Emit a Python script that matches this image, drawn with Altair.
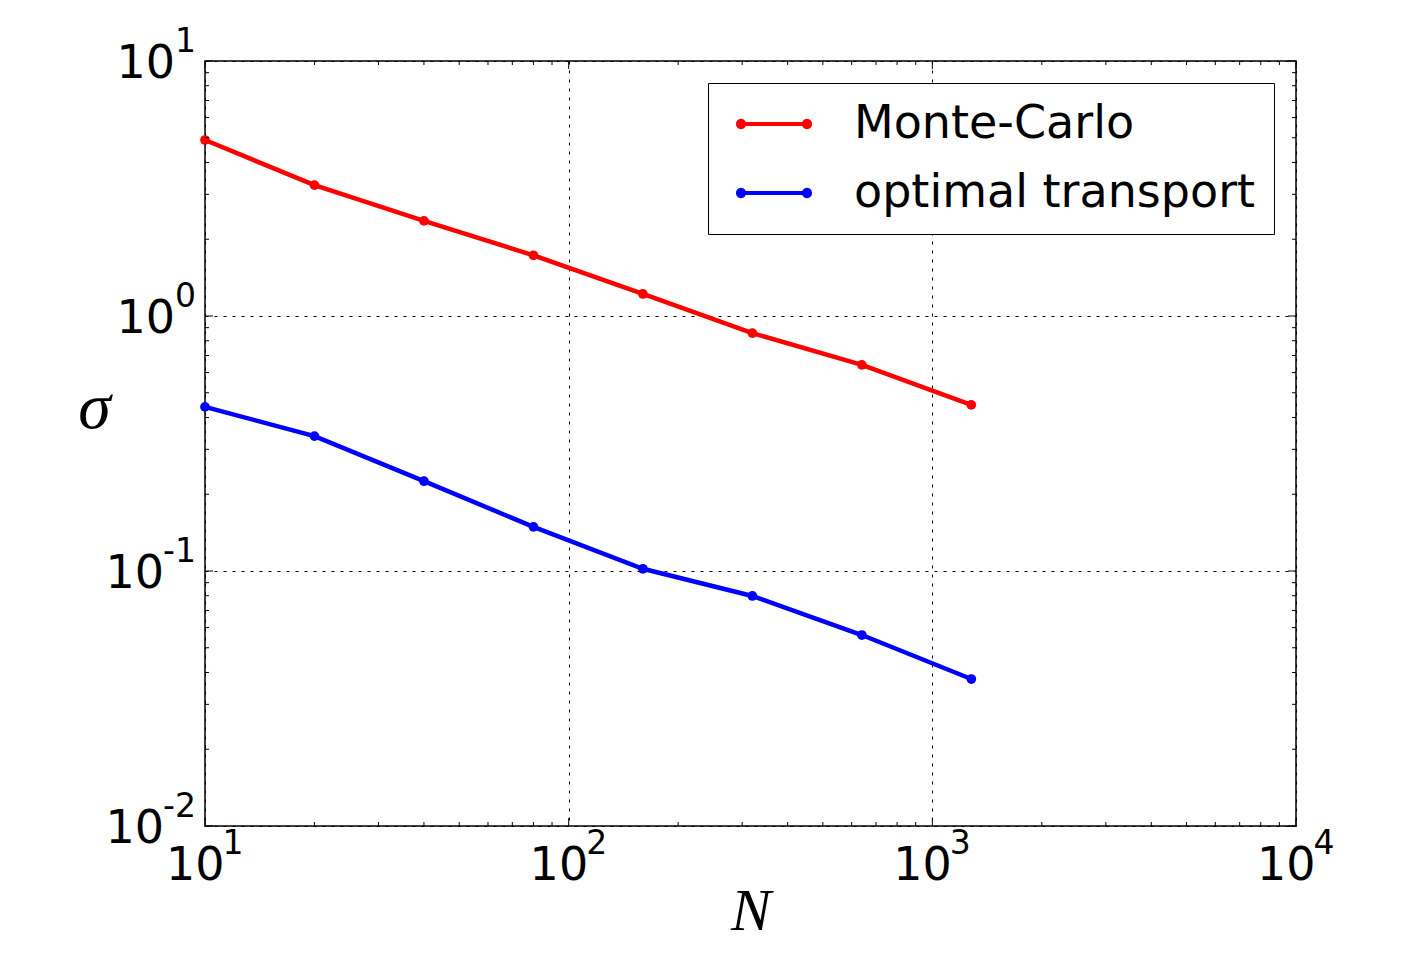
import altair as alt
import pandas as pd

# ---------------- data ----------------
n_values = [10, 20, 40, 80, 160, 320, 640, 1280]
monte_carlo = [4.9, 3.26, 2.36, 1.73, 1.22, 0.857, 0.643, 0.448]
optimal_transport = [0.44, 0.338, 0.225, 0.149, 0.102, 0.0798, 0.0561, 0.0377]
series_names = ["Monte-Carlo", "optimal transport"]
series_colors = ["#ff0000", "#0000ff"]

x_major = [10, 100, 1000, 10000]
x_exponents = ["1", "2", "3", "4"]
y_major = [0.01, 0.1, 1, 10]
y_exponents = ["-2", "-1", "0", "1"]
minor_steps = [2, 3, 4, 5, 6, 7, 8, 9]

# ---------------- layout / style ----------------
W, H = 1091, 765
FONT = "DejaVu Sans"
SERIF = "Liberation Serif"
LABEL_SIZE = 46
EXP_SIZE = 33

x_minor = [m * d for d in x_major[:-1] for m in minor_steps]
y_minor = [m * d for d in y_major[:-1] for m in minor_steps]

xs = alt.Scale(type="log", domain=[x_major[0], x_major[-1]], nice=False)
ys = alt.Scale(type="log", domain=[y_major[0], y_major[-1]], nice=False)

x_axis = alt.Axis(values=x_major, grid=True, gridColor="black", gridDash=[3, 6],
                  gridWidth=1, labels=False, ticks=False, domain=False,
                  title="N", titleFont=SERIF, titleFontStyle="italic",
                  titleFontWeight="normal", titleFontSize=60, titleColor="black",
                  titleY=103, titleBaseline="alphabetic")
y_axis = alt.Axis(values=y_major, grid=True, gridColor="black", gridDash=[3, 6],
                  gridWidth=1, labels=False, ticks=False, domain=False,
                  title="σ", titleFont=SERIF, titleFontStyle="italic",
                  titleFontWeight="normal", titleFontSize=66, titleColor="black",
                  titleAngle=0, titleX=-111, titleY=366, titleAlign="center",
                  titleBaseline="alphabetic")


def X(field):
    return alt.X(f"{field}:Q", scale=xs, axis=x_axis)


def Y(field):
    return alt.Y(f"{field}:Q", scale=ys, axis=y_axis)


rows = []
for name, vals in zip(series_names, [monte_carlo, optimal_transport]):
    for n, v in zip(n_values, vals):
        rows.append({"N": n, "sigma": v, "series": name})
df = pd.DataFrame(rows)

# legend glyph: a short line with a dot at each end (filled path)
legend_symbol = ("M-0.667,-0.167H4.833V0.167H-0.667Z"
                 "M-1.083,0A0.4167,0.4167,0,1,1,-0.25,0A0.4167,0.4167,0,1,1,-1.083,0Z"
                 "M4.417,0A0.4167,0.4167,0,1,1,5.25,0A0.4167,0.4167,0,1,1,4.417,0Z")

color = alt.Color(
    "series:N",
    scale=alt.Scale(domain=series_names, range=series_colors),
    sort=series_names,
    legend=alt.Legend(title=None, orient="top-right", offset=22, padding=18,
                      strokeColor="black", fillColor="white", cornerRadius=0,
                      labelFont=FONT, labelFontSize=LABEL_SIZE, labelColor="black",
                      labelLimit=1000,
                      symbolType=legend_symbol, symbolSize=576,
                      symbolStrokeWidth=0, symbolOpacity=1,
                      labelOffset=82, rowPadding=23),
)

points = alt.Chart(df).mark_point(filled=True, size=95, opacity=1).encode(
    x=X("N"), y=Y("sigma"), color=color)
lines = alt.Chart(df).mark_line(strokeWidth=4.5).encode(
    x=X("N"), y=Y("sigma"), color=color)

layers = [points, lines]


def x_ticks(values, length):
    d = alt.Chart(pd.DataFrame({"v": values})).mark_rule(color="black", strokeWidth=1)
    return [d.encode(x=X("v"), y=alt.value(H), y2=alt.value(H - length)),
            d.encode(x=X("v"), y=alt.value(0), y2=alt.value(length))]


def y_ticks(values, length):
    d = alt.Chart(pd.DataFrame({"v": values})).mark_rule(color="black", strokeWidth=1)
    return [d.encode(y=Y("v"), x=alt.value(0), x2=alt.value(length)),
            d.encode(y=Y("v"), x=alt.value(W), x2=alt.value(W - length))]


layers += x_ticks(x_major, 8) + x_ticks(x_minor, 4)
layers += y_ticks(y_major, 8) + y_ticks(y_minor, 4)

# tick labels: "10" with a raised exponent
xl = pd.DataFrame({"v": x_major, "e": x_exponents})
layers.append(alt.Chart(xl).mark_text(
    text="10", font=FONT, fontSize=LABEL_SIZE, align="right", baseline="alphabetic",
    dx=19.5, color="black").encode(x=X("v"), y=alt.value(H + 54)))
layers.append(alt.Chart(xl).mark_text(
    font=FONT, fontSize=EXP_SIZE, align="left", baseline="alphabetic",
    dx=17.5, color="black").encode(x=X("v"), y=alt.value(H + 28), text="e:N"))

yl = pd.DataFrame({"v": y_major, "e": y_exponents})
layers.append(alt.Chart(yl).mark_text(
    font=FONT, fontSize=EXP_SIZE, align="right", baseline="alphabetic",
    dy=-9, color="black").encode(x=alt.value(-9), y=Y("v"), text="e:N"))
layers.append(alt.Chart(yl).transform_filter("datum.v >= 1").mark_text(
    text="10", font=FONT, fontSize=LABEL_SIZE, align="right", baseline="alphabetic",
    dy=17, color="black").encode(x=alt.value(-30), y=Y("v")))
layers.append(alt.Chart(yl).transform_filter("datum.v < 1").mark_text(
    text="10", font=FONT, fontSize=LABEL_SIZE, align="right", baseline="alphabetic",
    dy=17, color="black").encode(x=alt.value(-41), y=Y("v")))

chart = alt.layer(*layers).properties(
    width=W, height=H,
    autosize=alt.AutoSizeParams(type="none"),
    padding={"left": 197, "top": 53, "right": 90, "bottom": 118},
).configure_view(stroke="black", strokeWidth=1.5)

chart.save("out.html", embed_options={"renderer": "svg", "actions": False})
